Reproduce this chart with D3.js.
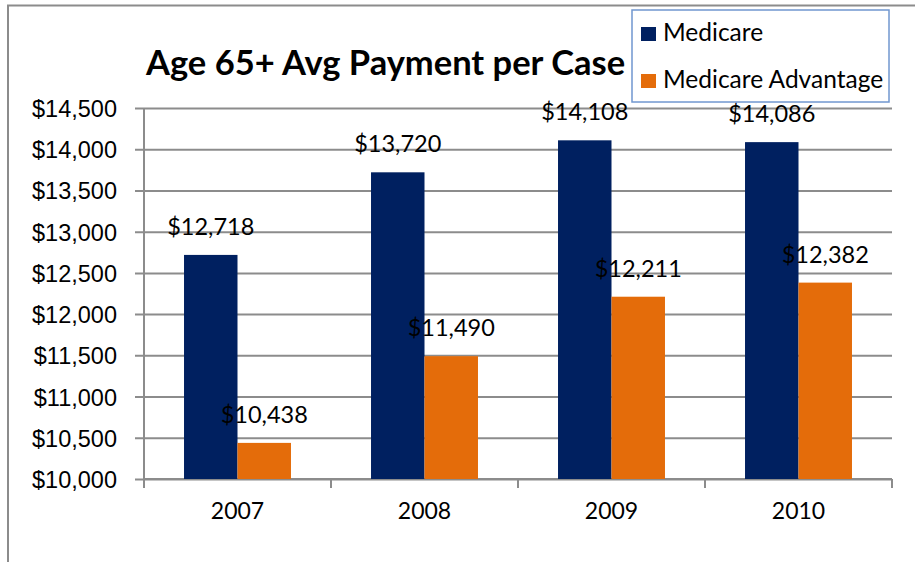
<!DOCTYPE html>
<html>
<head>
<meta charset="utf-8">
<script src="https://cdn.jsdelivr.net/npm/d3@7"></script>
<style>
  body { margin: 0; background: #fff; }
  svg { display: block; font-family: Lato, "Open Sans", sans-serif; }
</style>
</head>
<body>
<div id="chart"></div>
<script>
// chart data
const years = ["2007", "2008", "2009", "2010"];
const seriesNames = ["Medicare", "Medicare Advantage"];
const medicare = [12718, 13720, 14108, 14086];
const medicareAdvantage = [10438, 11490, 12211, 12382];
const yTicks = [10000, 10500, 11000, 11500, 12000, 12500, 13000, 13500, 14000, 14500];
const colors = ["#002060", "#E46C0A"];

const width = 915, height = 562;
const margin = { left: 144, right: 23, top: 108, bottom: 83 };
const innerWidth = width - margin.left - margin.right,
    innerHeight = height - margin.top - margin.bottom;

const svg = d3.select("#chart").append("svg")
    .attr("width", width)
    .attr("height", height);

// outer frame (top + left edges only visible)
svg.append("path")
    .attr("fill", "none")
    .attr("stroke", "#8c8c8c")
    .attr("stroke-width", 2)
    .attr("d", "M8,562V5.5H915");

const g = svg.append("g")
    .attr("transform", "translate(" + margin.left + "," + margin.top + ")");

// scales
const xScale = d3.scaleBand()
    .domain(years)
    .range([0, innerWidth])
    .paddingInner(0.428)
    .paddingOuter(0.214);

const xSub = d3.scaleBand()
    .domain(seriesNames)
    .range([0, xScale.bandwidth()]);

const yScale = d3.scaleLinear()
    .domain([10000, 14500])
    .range([innerHeight, 0]);

const fmt = d => "$" + d3.format(",")(d);

// gridlines + y axis
const yAxis = g.append("g")
    .attr("class", "y axis")
    .call(d3.axisLeft(yScale)
        .tickValues(yTicks)
        .tickSize(-innerWidth)
        .tickFormat(fmt));
yAxis.select(".domain").remove();
yAxis.selectAll(".tick line")
    .attr("x1", -9)
    .attr("stroke", "#8c8c8c")
    .attr("stroke-width", 2);
yAxis.selectAll(".tick text")
    .attr("x", -27)
    .attr("dy", "0.36em")
    .attr("fill", "#000")
    .style("font-size", "23.5px");

// vertical axis line
g.append("line")
    .attr("x1", 0).attr("x2", 0)
    .attr("y1", 0).attr("y2", innerHeight)
    .attr("stroke", "#8c8c8c")
    .attr("stroke-width", 2);

// x axis with ticks at category boundaries
const xAxis = g.append("g")
    .attr("class", "x axis")
    .attr("transform", "translate(0," + innerHeight + ")");
xAxis.append("line")
    .attr("x1", 0).attr("x2", innerWidth)
    .attr("stroke", "#8c8c8c")
    .attr("stroke-width", 2);
const bounds = years.map(y => xScale(y) - xScale.step() * xScale.paddingInner() / 2)
    .concat([innerWidth]);
xAxis.selectAll(".xtick")
    .data(bounds)
    .enter().append("line")
    .attr("class", "xtick")
    .attr("x1", d => d).attr("x2", d => d)
    .attr("y1", 0).attr("y2", 9)
    .attr("stroke", "#8c8c8c")
    .attr("stroke-width", 2);
xAxis.selectAll(".xlabel")
    .data(years)
    .enter().append("text")
    .attr("class", "xlabel")
    .attr("x", d => xScale(d) + xScale.bandwidth() / 2)
    .attr("y", 40)
    .attr("text-anchor", "middle")
    .style("font-size", "23px")
    .text(d => d);

// bars
const series = [medicare, medicareAdvantage];
series.forEach((vals, si) => {
    const sg = g.append("g").attr("fill", colors[si]);
    sg.selectAll("rect")
        .data(vals)
        .enter().append("rect")
        .attr("x", (d, i) => xScale(years[i]) + xSub(seriesNames[si]))
        .attr("y", d => yScale(d))
        .attr("width", xSub.bandwidth())
        .attr("height", d => innerHeight - yScale(d));

    g.append("g").selectAll("text")
        .data(vals)
        .enter().append("text")
        .attr("x", (d, i) => xScale(years[i]) + xSub(seriesNames[si]) + xSub.bandwidth() / 2)
        .attr("y", d => yScale(d) - 20)
        .attr("text-anchor", "middle")
        .style("font-size", "23.5px")
        .text(fmt);
});

// title
svg.append("text")
    .attr("x", 146)
    .attr("y", 75)
    .style("font-size", "34.5px")
    .style("font-weight", "bold")
    .text("Age 65+ Avg Payment per Case");

// legend
const legend = svg.append("g").attr("transform", "translate(632,10)");
legend.append("rect")
    .attr("width", 257)
    .attr("height", 92)
    .attr("fill", "#fff")
    .attr("stroke", "#7097cf")
    .attr("stroke-width", 1.5);
const items = legend.selectAll(".item")
    .data(seriesNames)
    .enter().append("g")
    .attr("class", "item")
    .attr("transform", (d, i) => "translate(9," + (17 + i * 47) + ")");
items.append("rect")
    .attr("width", 15)
    .attr("height", 14)
    .attr("fill", (d, i) => colors[i]);
items.append("text")
    .attr("x", 22)
    .attr("y", 14)
    .style("font-size", "24.5px")
    .text(d => d);
</script>
</body>
</html>
